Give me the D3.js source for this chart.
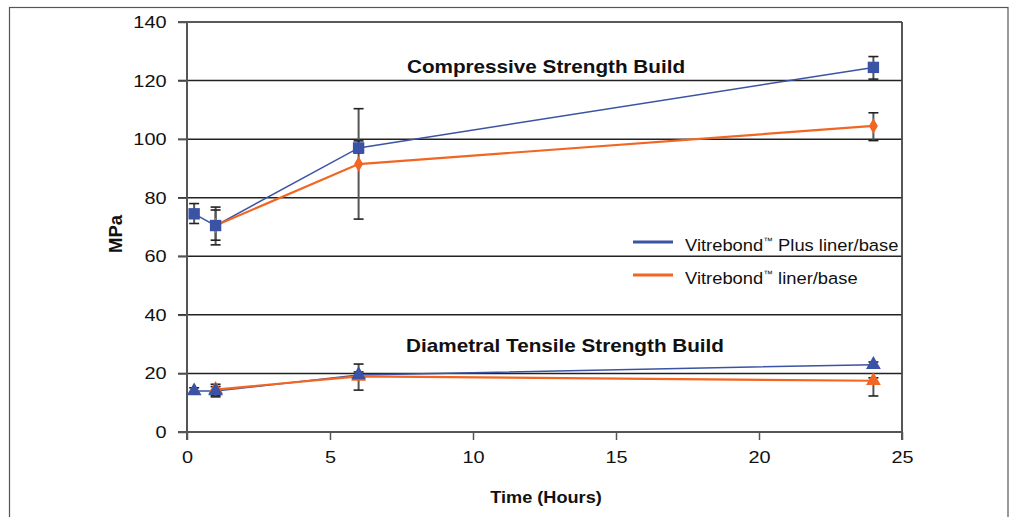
<!DOCTYPE html>
<html><head><meta charset="utf-8">
<script src="https://cdn.jsdelivr.net/npm/d3@7"></script>
<style>body{margin:0;background:#fff;} svg{display:block;font-family:"Liberation Sans",Arial,sans-serif;}</style>
</head><body>
<script>
// ---- data ----
const xTicks = [0,5,10,15,20,25];
const yTicks = [0,20,40,60,80,100,120,140];
const plusCompT   = [0.25, 1, 6, 24];
const plusCompV   = [74.5, 70.5, 97, 124.5];
const plusCompLo  = [71.2, 65.5, 95.3, 120.5];
const plusCompHi  = [78.0, 75.8, 99.4, 128.2];
const baseCompT   = [1, 6, 24];
const baseCompV   = [70.5, 91.5, 104.5];
const baseCompLo  = [63.9, 72.7, 99.5];
const baseCompHi  = [76.8, 110.4, 109.0];
const plusDtsT    = [0.25, 1, 6, 24];
const plusDtsV    = [14, 14, 19.5, 23];
const plusDtsLo   = [13.2, 12.0, 18.5, 21.8];
const plusDtsHi   = [15.1, 16.3, 20.5, 23.9];
const baseDtsT    = [1, 6, 24];
const baseDtsV    = [14.5, 19, 17.5];
const baseDtsLo   = [12.5, 14.3, 12.3];
const baseDtsHi   = [15.5, 23.2, 18.5];
const legendLabels = ["Plus liner/base", "liner/base"];

const W = 1010, H = 517;
const BLUE = "#3a53a4", ORANGE = "#f26522";
const SX = 1.17;
const svg = d3.select("body").append("svg").attr("width", W).attr("height", H);

// frame
svg.append("rect").attr("x", 9.5).attr("y", 7.5).attr("width", 998.5).attr("height", 530)
  .attr("fill", "none").attr("stroke", "#555").attr("stroke-width", 1.2);

const x = d3.scaleLinear().domain([0,25]).range([187, 902]);
const y = d3.scaleLinear().domain([0,140]).range([432, 22]);

// gridlines
svg.append("g").selectAll("line").data(yTicks.filter(d => d > 0)).join("line")
  .attr("x1", x(0) - 9).attr("x2", x(25)).attr("y1", d => y(d)).attr("y2", d => y(d))
  .attr("stroke", "#222").attr("stroke-width", 1.5);

// right border
svg.append("line").attr("x1", x(25)).attr("x2", x(25)).attr("y1", y(140)).attr("y2", y(0) + 8)
  .attr("stroke", "#444").attr("stroke-width", 1.8);

// y axis
const yAxis = svg.append("g").attr("transform", `translate(${x(0)},0)`)
  .call(d3.axisLeft(y).tickValues(yTicks).tickSize(9).tickPadding(8.5));
yAxis.select(".domain").attr("stroke", "#555").attr("stroke-width", 2)
  .attr("d", `M-0,${y(140)}V${y(0)+8}`);
yAxis.selectAll(".tick line").attr("stroke", "#555").attr("stroke-width", 1.5);
yAxis.selectAll("text").attr("font-size", 17).attr("fill", "#111")
  .attr("font-family", "Liberation Sans, Arial, sans-serif").attr("transform", `scale(${SX},1)`);

// x axis
const xAxis = svg.append("g").attr("transform", `translate(0,${y(0)})`)
  .call(d3.axisBottom(x).tickValues(xTicks).tickSize(8).tickPadding(11));
xAxis.select(".domain").attr("stroke", "#555").attr("stroke-width", 2)
  .attr("d", `M${x(0)-9},0H${x(25)}`);
xAxis.selectAll(".tick line").attr("stroke", "#555").attr("stroke-width", 1.5);
xAxis.selectAll("text").attr("font-size", 17).attr("fill", "#111")
  .attr("font-family", "Liberation Sans, Arial, sans-serif").attr("transform", `scale(${SX},1)`);

function series(T, V, Lo, Hi, color, lw) {
  const pts = T.map((t, i) => ({t, v: V[i], lo: Lo[i], hi: Hi[i]}));
  const line = d3.line().x(d => x(d.t)).y(d => y(d.v));
  svg.append("path").datum(pts).attr("d", line).attr("fill", "none")
    .attr("stroke", color).attr("stroke-width", lw);
  return pts;
}
function errorBars(pts) {
  const g = svg.append("g").attr("stroke", "#222").attr("stroke-width", 1.6);
  pts.forEach(d => {
    g.append("line").attr("x1", x(d.t)).attr("x2", x(d.t)).attr("y1", y(d.lo)).attr("y2", y(d.hi)).attr("stroke", "#555").attr("stroke-width", 2);
    [d.lo, d.hi].forEach(v => g.append("line").attr("x1", x(d.t) - 5).attr("x2", x(d.t) + 5)
      .attr("y1", y(v)).attr("y2", y(v)));
  });
}
function markers(pts, color, shape, size) {
  svg.append("g").selectAll("path").data(pts).join("path")
    .attr("transform", d => `translate(${x(d.t)},${y(d.v)})`)
    .attr("d", d3.symbol().type(shape).size(size)).attr("fill", color);
}

const pc = series(plusCompT, plusCompV, plusCompLo, plusCompHi, BLUE, 1.5);
const bc = series(baseCompT, baseCompV, baseCompLo, baseCompHi, ORANGE, 2.2);
const pd = series(plusDtsT, plusDtsV, plusDtsLo, plusDtsHi, BLUE, 1.5);
const bd = series(baseDtsT, baseDtsV, baseDtsLo, baseDtsHi, ORANGE, 2.2);
errorBars(bc); errorBars(pc); errorBars(bd); errorBars(pd);
markers(bc, ORANGE, d3.symbolDiamond, 70);
markers(pc, BLUE, d3.symbolSquare, 130);
markers(bd, ORANGE, d3.symbolTriangle, 95);
markers(pd, BLUE, d3.symbolTriangle, 95);

function label(px, py, txt, size, bold, sx, anchor) {
  return svg.append("text").attr("transform", `translate(${px},${py}) scale(${sx},1)`)
    .attr("text-anchor", anchor || "middle").attr("font-size", size)
    .attr("font-weight", bold ? "bold" : "normal").attr("fill", "#111").text(txt);
}
label(546, 73, "Compressive Strength Build", 18, true, 1.15);
label(565, 352, "Diametral Tensile Strength Build", 18, true, 1.15);
label(546, 503, "Time (Hours)", 15.8, true, 1.15);
svg.append("text").attr("transform", "translate(122,234) rotate(-90)").attr("text-anchor", "middle")
  .attr("font-size", 18.5).attr("font-weight", "bold").attr("fill", "#111").text("MPa");

// legend
const leg = svg.append("g");
[BLUE, ORANGE].forEach((c, i) => {
  const ly = 242 + i * 33;
  leg.append("line").attr("x1", 633).attr("x2", 673).attr("y1", ly).attr("y2", ly)
    .attr("stroke", c).attr("stroke-width", 3);
  const t = leg.append("text").attr("transform", `translate(685,${ly + 8.5}) scale(1.08,1)`)
    .attr("font-size", 17).attr("fill", "#111");
  t.append("tspan").text("Vitrebond");
  t.append("tspan").attr("font-size", 9).attr("dy", -7).text("™");
  t.append("tspan").attr("dy", 7).text(" " + legendLabels[i]);
});
</script>
</body></html>
